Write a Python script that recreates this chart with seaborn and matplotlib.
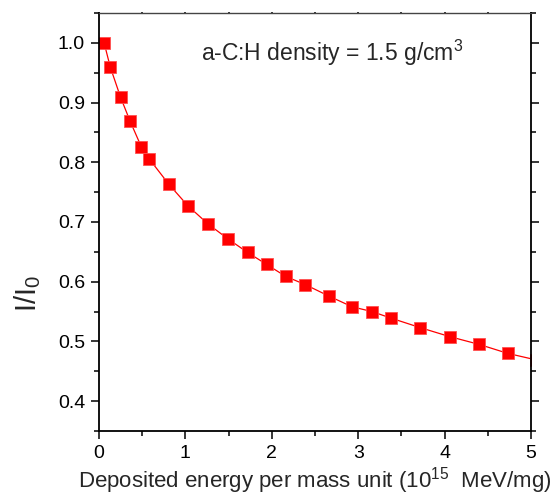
import numpy as np
import pandas as pd
import matplotlib
matplotlib.use('Agg')
import matplotlib.pyplot as plt
import seaborn as sns
from matplotlib.ticker import MultipleLocator

# deposited energy (10^15 MeV/mg) and normalised intensity I/I0
energy = [0.06, 0.13, 0.25, 0.36, 0.49, 0.58, 0.81, 1.03, 1.26, 1.49, 1.72,
          1.94, 2.16, 2.39, 2.66, 2.93, 3.16, 3.38, 3.72, 4.06, 4.40, 4.73, 5.06]
ratio = [1.000, 0.960, 0.909, 0.869, 0.826, 0.806, 0.763, 0.727, 0.697, 0.672,
         0.649, 0.629, 0.609, 0.595, 0.576, 0.558, 0.550, 0.539, 0.523, 0.508,
         0.495, 0.480, 0.469]
note = 'a-C:H density = 1.5 g/cm$^3$'

df = pd.DataFrame({'energy': energy, 'ratio': ratio})

sns.set_style('ticks')
plt.rcParams['font.family'] = ['Liberation Sans', 'DejaVu Sans']
plt.rcParams['mathtext.fontset'] = 'custom'
plt.rcParams['mathtext.rm'] = 'Liberation Sans'

fig = plt.figure(figsize=(5.59, 5.0), dpi=100)
ax = fig.add_axes([0.177, 0.138, 0.773, 0.836])

sns.lineplot(data=df, x='energy', y='ratio', ax=ax, color='red', lw=0.9,
             marker='s', markersize=8, markeredgecolor='#ff5050',
             markeredgewidth=0.6, estimator=None, sort=False)

ax.set_xlim(0, 5)
ax.set_ylim(0.35, 1.05)
ax.xaxis.set_major_locator(MultipleLocator(1))
ax.xaxis.set_minor_locator(MultipleLocator(0.5))
ax.yaxis.set_major_locator(MultipleLocator(0.1))
ax.yaxis.set_minor_locator(MultipleLocator(0.05))
ax.tick_params(which='both', direction='out', top=True, right=True,
               labeltop=False, labelright=False, colors='black', width=1.1)
ax.tick_params(which='major', length=6, labelsize=14, pad=4)
ax.tick_params(which='minor', length=3.5)
for t in ax.xaxis.get_major_ticks() + ax.xaxis.get_minor_ticks():
    t.tick2line.set_markersize(1)
    t.tick2line.set_color('#888888')
for s in ax.spines.values():
    s.set_visible(True)
    s.set_linewidth(1.3)
    s.set_color('black')
ax.spines['top'].set_linewidth(1.0)
ax.spines['top'].set_color('#444444')

ax.set_xlabel('Deposited energy per mass unit (10$^{15}$  MeV/mg)', fontsize=16, labelpad=2)
ax.set_ylabel('I/I$_0$', fontsize=21)
ax.yaxis.set_label_coords(-0.13, 0.33)
ax.text(0.237, 0.905, note, transform=ax.transAxes, fontsize=16.5, va='center')

fig.savefig('out.png', dpi=100)
